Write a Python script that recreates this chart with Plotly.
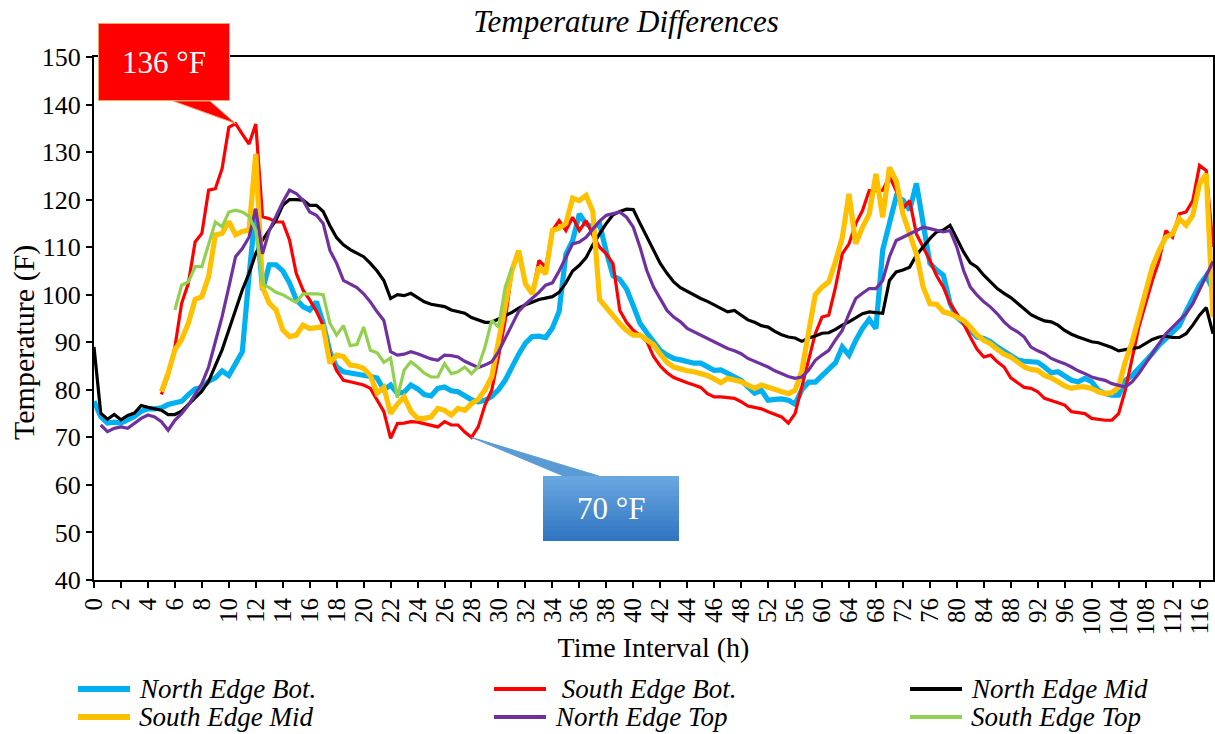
import plotly.graph_objects as go

# Time axis: half-hourly readings for the first 48 h, hourly afterwards
HOURS = [i / 2 for i in range(97)] + list(range(49, 119))
CATEGORIES = [f"{h:g}" for h in HOURS]
TICK_LABELS = CATEGORIES[::4]

north_edge_bot = [
    77.6, 74.4, 73.0, 73.2, 73.0, 73.7, 74.4, 75.5, 76.0, 76.0,
    76.2, 76.9, 77.2, 77.6, 79.0, 80.2, 80.4, 81.8, 82.5, 84.0,
    83.0, 85.5, 88.0, 104.0, 118.0, 101.0, 106.3, 106.3, 105.0, 102.5,
    99.0, 97.5, 96.8, 98.5, 94.0, 88.0, 84.8, 83.8, 83.6, 83.3,
    83.0, 82.8, 82.5, 80.0, 81.0, 79.3, 79.5, 81.0, 80.2, 79.0,
    78.7, 80.3, 80.6, 79.8, 79.6, 78.8, 77.9, 77.5, 77.8, 78.6,
    80.0, 82.0, 85.0, 87.5, 89.8, 91.2, 91.3, 91.0, 93.0, 96.5,
    108.5, 111.4, 117.0, 114.9, 114.2, 114.9, 109.0, 104.0, 103.2, 101.2,
    97.7, 94.0, 92.0, 90.2, 88.3, 87.3, 86.6, 86.3, 86.0, 85.6,
    85.6, 85.0, 84.1, 84.2, 83.5, 82.7, 82.0, 80.6, 79.3, 79.9,
    77.8, 78.0, 78.1, 77.8, 77.0, 80.0, 81.6, 81.6, 83.0, 84.3,
    85.7, 89.0, 87.3, 90.4, 92.9, 94.8, 92.9, 109.4, 115.0, 120.6,
    119.9, 117.8, 123.4, 115.7, 106.6, 105.2, 104.1, 98.2, 95.3, 94.0,
    92.5, 91.1, 90.8, 90.1, 89.0, 88.0, 87.3, 86.3, 86.0, 86.0,
    85.8, 84.8, 83.6, 83.8, 82.9, 82.0, 81.7, 82.4, 81.7, 79.9,
    79.2, 78.9, 78.9, 82.0, 83.0, 84.5, 85.9, 87.6, 89.4, 90.8,
    92.0, 93.5, 96.5, 99.5, 102.0, 104.0, 101.0,
]

south_edge_bot = [None] * 10 + [
    79.0, 83.0, 89.0, 98.2, 102.4, 111.1, 112.9, 122.0, 122.3, 126.5,
    135.2, 136.0, 133.8, 131.7, 135.9, 116.4, 116.0, 115.3, 115.3, 111.5,
    104.5, 101.0, 98.9, 96.5, 93.5, 87.5, 84.0, 82.0, 81.7, 81.3,
    81.0, 80.3, 78.0, 75.4, 69.8, 72.9, 73.0, 73.3, 73.2, 72.9,
    72.5, 72.2, 73.3, 72.6, 72.6, 71.1, 70.0, 72.2, 76.8, 79.9,
    86.9, 94.6, 105.1, 108.6, 102.3, 100.2, 107.2, 105.8, 113.5, 115.6,
    113.5, 116.3, 113.5, 115.6, 112.5, 110.0, 108.6, 106.5, 96.7, 94.2,
    92.5, 91.5, 90.2, 87.0, 85.0, 83.6, 82.6, 82.0, 81.5, 81.0,
    80.5, 79.2, 78.5, 78.5, 78.4, 78.2, 77.5, 76.6, 76.3, 76.0,
    75.4, 74.9, 74.3, 73.0, 75.0, 80.6, 86.5, 91.8, 95.3, 95.7,
    101.6, 108.6, 110.7, 114.9, 117.7, 121.9, 121.9, 122.0, 124.9, 121.9,
    118.1, 119.8, 112.8, 110.0, 107.2, 104.0, 101.6, 98.1, 96.0, 93.9,
    91.1, 88.5, 86.9, 87.3, 85.9, 84.8, 82.5, 81.5, 80.5, 80.3,
    79.6, 78.2, 77.8, 77.3, 76.8, 75.4, 75.2, 75.0, 74.0, 73.8,
    73.6, 73.6, 75.0, 80.0, 87.0, 93.2, 98.1, 103.0, 107.2, 113.5,
    112.1, 117.0, 117.4, 119.8, 127.2, 126.1, 110.0,
]

north_edge_mid = [
    89.0, 75.1, 73.8, 74.8, 73.7, 74.6, 75.1, 76.7, 76.3, 76.0,
    75.7, 74.8, 74.8, 75.5, 76.9, 78.3, 79.7, 81.8, 85.0, 88.4,
    92.6, 96.8, 101.0, 104.5, 108.7, 111.5, 113.6, 115.7, 118.8, 120.0,
    120.0, 119.9, 118.8, 118.8, 117.5, 114.5, 112.0, 110.5, 109.5, 108.7,
    108.0, 106.6, 105.0, 103.0, 99.2, 100.0, 99.8, 100.3, 99.3, 98.5,
    98.0, 97.7, 97.5, 96.8, 96.4, 96.1, 95.2, 94.7, 94.2, 94.2,
    94.9, 95.6, 96.3, 97.2, 97.9, 98.4, 99.0, 99.3, 99.6, 100.5,
    102.5, 105.0, 106.2, 107.8, 110.5, 112.8, 115.0, 116.8, 117.5, 118.0,
    117.9, 115.0, 112.2, 109.4, 106.6, 104.5, 102.7, 101.5, 100.7, 99.9,
    99.2, 98.6, 97.9, 97.2, 96.4, 96.7, 95.6, 94.7, 94.2, 93.5,
    93.2, 92.3, 91.6, 91.1, 90.9, 90.2, 90.9, 91.3, 91.9, 92.0,
    92.7, 93.6, 94.3, 95.2, 96.0, 96.4, 96.2, 96.1, 103.0, 104.8,
    105.2, 105.8, 108.3, 110.0, 111.8, 113.2, 113.6, 114.6, 111.8, 109.0,
    106.7, 105.8, 104.1, 102.7, 101.3, 100.3, 99.4, 98.2, 97.0, 95.8,
    95.1, 94.5, 94.3, 93.6, 92.5, 91.7, 91.1, 90.6, 90.1, 89.9,
    89.4, 88.9, 88.2, 88.5, 88.7, 88.9, 89.8, 90.6, 91.1, 91.3,
    91.0, 91.0, 91.8, 93.6, 95.7, 97.3, 91.8,
]

south_edge_mid = [None] * 10 + [
    79.6, 83.5, 88.4, 90.6, 94.0, 99.0, 99.6, 103.8, 112.6, 112.9,
    115.4, 112.6, 113.3, 113.6, 129.6, 101.6, 98.2, 96.8, 92.6, 91.2,
    91.5, 93.6, 92.9, 93.1, 93.3, 85.6, 87.3, 87.0, 85.2, 85.0,
    84.5, 83.0, 79.3, 80.5, 75.0, 77.0, 78.5, 75.5, 74.0, 74.0,
    74.3, 76.1, 75.7, 74.7, 76.1, 75.7, 77.1, 78.0, 80.0, 82.7,
    90.4, 97.4, 105.1, 109.3, 102.3, 100.2, 105.8, 104.4, 113.5, 114.0,
    115.0, 120.3, 119.8, 120.9, 117.5, 99.0, 97.2, 95.3, 93.9, 92.5,
    91.5, 91.5, 90.4, 89.5, 87.5, 85.8, 84.8, 84.3, 84.0, 83.8,
    83.4, 83.0, 82.3, 81.5, 82.4, 82.0, 81.7, 81.0, 80.3, 81.0,
    80.5, 80.0, 79.6, 79.2, 79.9, 84.0, 92.0, 100.0, 101.6, 102.7,
    107.0, 112.0, 121.2, 110.7, 114.2, 117.0, 125.4, 116.3, 126.8, 124.0,
    117.0, 112.8, 108.6, 101.6, 98.1, 98.0, 96.4, 96.0, 95.3, 94.6,
    93.2, 91.5, 90.4, 89.7, 88.5, 87.5, 86.9, 85.9, 84.8, 84.3,
    84.1, 83.0, 82.5, 81.7, 80.8, 80.3, 80.6, 80.6, 80.3, 79.6,
    79.2, 79.4, 80.6, 86.0, 90.0, 95.3, 100.2, 105.8, 109.3, 112.1,
    112.8, 116.0, 114.6, 116.7, 123.3, 125.4, 95.3,
]

north_edge_top = [
    None, 72.6, 71.2, 71.9, 72.2, 71.9, 72.9, 74.0, 74.7, 74.3,
    73.3, 71.5, 73.6, 75.0, 76.8, 78.9, 81.3, 84.8, 89.8, 95.4,
    101.6, 108.0, 109.7, 112.1, 118.1, 108.6, 113.5, 116.7, 119.5, 122.0,
    121.3, 119.9, 117.4, 116.7, 115.0, 109.3, 106.6, 103.0, 102.3, 101.5,
    100.2, 98.5, 96.4, 94.6, 88.0, 87.3, 87.5, 88.0, 87.6, 87.0,
    86.5, 86.2, 87.3, 87.2, 86.9, 86.0, 85.3, 84.7, 85.2, 85.9,
    88.0, 90.8, 93.5, 96.5, 98.0, 99.2, 100.5, 102.0, 102.5, 105.0,
    108.0, 110.7, 111.1, 112.1, 113.8, 115.5, 116.7, 117.1, 117.4, 116.3,
    114.2, 110.0, 105.1, 101.6, 99.2, 96.7, 95.3, 94.3, 92.9, 92.2,
    91.5, 90.8, 90.0, 89.4, 88.7, 88.2, 87.6, 86.6, 86.0, 85.5,
    84.8, 84.0, 83.4, 82.8, 82.4, 82.7, 84.1, 86.2, 87.3, 88.3,
    90.5, 92.5, 96.0, 99.2, 100.3, 101.3, 101.3, 103.0, 108.0, 111.4,
    112.1, 112.8, 113.5, 114.2, 113.9, 113.5, 113.2, 113.5, 110.0, 105.1,
    101.6, 99.9, 98.5, 97.4, 96.0, 94.3, 93.0, 92.2, 91.1, 89.0,
    88.2, 87.6, 86.6, 86.0, 85.5, 84.8, 84.0, 83.4, 82.7, 82.3,
    82.0, 81.3, 81.0, 80.6, 81.7, 83.4, 85.5, 87.6, 89.7, 91.8,
    93.2, 94.6, 96.0, 98.1, 100.9, 104.0, 107.0,
]

south_edge_top = [None] * 12 + [
    96.8, 102.0, 102.7, 105.9, 105.9, 110.4, 115.3, 114.3,
    117.4, 117.8, 117.4, 116.5, 113.5, 102.3, 101.5, 100.5, 100.0, 99.2,
    98.4, 100.2, 100.2, 100.2, 100.0, 94.0, 91.5, 93.5, 89.3, 89.5,
    93.2, 88.3, 87.8, 85.8, 86.7, 78.3, 84.1, 85.9, 84.8, 83.5,
    82.7, 82.7, 85.5, 83.4, 83.8, 84.8, 83.4, 84.8, 89.0, 94.6,
    93.2, 101.6, 105.8,
] + [None] * 104

SERIES = [
    ("North Edge Bot.", north_edge_bot, "#00B0F0", 5.2),
    ("South Edge Bot.", south_edge_bot, "#FF0000", 3.2),
    ("North Edge Mid", north_edge_mid, "#000000", 3.2),
    ("South Edge Mid", south_edge_mid, "#FFC000", 5.2),
    ("North Edge Top", north_edge_top, "#7030A0", 3.2),
    ("South Edge Top", south_edge_top, "#92D050", 3.2),
]
for _, vals, _, _ in SERIES:
    assert len(vals) == len(CATEGORIES)

FONT = "Liberation Serif, Times New Roman, serif"
W, H = 1215, 734
ML, MR, MT, MB = 94, 2, 57, 154
Y_MIN, Y_MAX = 40, 150
X_MAX = len(CATEGORIES) - 1


def px_to_paper(px, py):
    return (px - ML) / (W - ML - MR), (H - MB - py) / (H - MT - MB)


def data_to_paper(k, v):
    return k / X_MAX, (v - Y_MIN) / (Y_MAX - Y_MIN)


fig = go.Figure()
for name, vals, color, width in SERIES:
    fig.add_trace(go.Scatter(
        x=CATEGORIES, y=vals, name=name, mode="lines",
        line=dict(color=color, width=width),
        connectgaps=False, showlegend=False,
    ))

shapes = []
annotations = []

# Callout for the peak of the south-edge bottom gauge
peak_k = CATEGORIES.index("10.5")
peak_v = south_edge_bot[peak_k]
tx, ty = data_to_paper(peak_k, peak_v)
b1x, by = px_to_paper(173, 101)
b2x, _ = px_to_paper(210, 101)
shapes.append(dict(
    type="path", xref="paper", yref="paper",
    path=f"M {b1x},{by} L {b2x},{by} L {tx},{ty} Z",
    fillcolor="#FF0000", line=dict(color="#F4A46A", width=1), layer="above",
))
cx, cy = px_to_paper(164, 62)
annotations.append(dict(
    xref="paper", yref="paper", x=cx, y=cy, xanchor="center", yanchor="middle",
    text=f"{peak_v:.0f} °F", showarrow=False, width=130, height=76,
    bgcolor="#FF0000", bordercolor="#F4A46A", borderwidth=1, borderpad=0,
    font=dict(family=FONT, size=31, color="white"),
))

# Callout for the low of the south-edge bottom gauge
low_k = CATEGORIES.index("28")
low_v = south_edge_bot[low_k]
tx, ty = data_to_paper(low_k, low_v)
b1x, by = px_to_paper(566, 477)
b2x, _ = px_to_paper(602, 477)
shapes.append(dict(
    type="path", xref="paper", yref="paper",
    path=f"M {b1x},{by} L {b2x},{by} L {tx},{ty} Z",
    fillcolor="#5B9BD5", line=dict(color="#5B9BD5", width=1), layer="above",
))
box_l, box_r, box_t, box_b = 543, 679, 476, 541
steps = 13
top_rgb, bot_rgb = (104, 166, 224), (50, 118, 194)
for i in range(steps):
    f = i / (steps - 1)
    rgb = tuple(round(a + (b - a) * f) for a, b in zip(top_rgb, bot_rgb))
    y0 = box_t + (box_b - box_t) * i / steps
    y1 = box_t + (box_b - box_t) * (i + 1) / steps
    x0p, y0p = px_to_paper(box_l, y0)
    x1p, y1p = px_to_paper(box_r, y1)
    shapes.append(dict(
        type="rect", xref="paper", yref="paper", x0=x0p, x1=x1p, y0=y1p, y1=y0p,
        fillcolor=f"rgb{rgb}", line=dict(width=0), layer="above",
    ))
cx, cy = px_to_paper((box_l + box_r) / 2, (box_t + box_b) / 2)
annotations.append(dict(
    xref="paper", yref="paper", x=cx, y=cy, xanchor="center", yanchor="middle",
    text=f"{low_v:.0f} °F", showarrow=False,
    font=dict(family=FONT, size=31, color="white"),
))

# Y-axis title
yx, yy = px_to_paper(24, 343)
annotations.append(dict(
    xref="paper", yref="paper", x=yx, y=yy, xanchor="center", yanchor="middle",
    text="Temperature (F)", textangle=-90, showarrow=False,
    font=dict(family=FONT, size=30, color="black"),
))

# Legend: three columns, two rows
for i, (name, _, color, width) in enumerate(SERIES):
    col, row = i % 3, i // 3
    lx0 = 78 + col * 416
    lx1 = lx0 + 52
    ly = 689 + row * 28
    p0x, p0y = px_to_paper(lx0, ly)
    p1x, _ = px_to_paper(lx1, ly)
    shapes.append(dict(
        type="line", xref="paper", yref="paper", x0=p0x, x1=p1x, y0=p0y, y1=p0y,
        line=dict(color=color, width=width + 0.8),
    ))
    tx_, ty_ = px_to_paper(lx1 + 7, ly)
    label = (" " + name) if i == 1 else name
    annotations.append(dict(
        xref="paper", yref="paper", x=tx_, y=ty_, xanchor="left", yanchor="middle",
        text=f"<i>{label}</i>", showarrow=False,
        font=dict(family=FONT, size=27, color="black"),
    ))

fig.update_layout(
    width=W, height=H,
    margin=dict(l=ML, r=MR, t=MT, b=MB, autoexpand=False),
    paper_bgcolor="white", plot_bgcolor="white",
    font=dict(family=FONT, color="black"),
    title=dict(
        text="<i>Temperature Differences</i>",
        xref="container", yref="container",
        x=626 / W, y=1 - 21 / H, xanchor="center", yanchor="middle",
        font=dict(family=FONT, size=31, color="black"),
    ),
    xaxis=dict(
        type="category", categoryorder="array", categoryarray=CATEGORIES,
        range=[0, X_MAX], tickmode="array", tickvals=TICK_LABELS, ticktext=TICK_LABELS,
        tickangle=-90, ticks="outside", ticklen=6, tickwidth=1.5, tickcolor="black",
        showline=True, linecolor="black", linewidth=2, mirror=True,
        showgrid=False, zeroline=False,
        tickfont=dict(family=FONT, size=25, color="black"),
        title=dict(text="Time Interval (h)", standoff=3,
                   font=dict(family=FONT, size=28, color="black")),
    ),
    yaxis=dict(
        range=[Y_MIN, Y_MAX], dtick=10, tick0=40,
        ticks="outside", ticklen=6, tickwidth=1.5, tickcolor="black",
        showline=True, linecolor="black", linewidth=2, mirror=True,
        showgrid=False, zeroline=False,
        tickfont=dict(family=FONT, size=26, color="black"),
    ),
    shapes=shapes, annotations=annotations, showlegend=False,
)

fig.write_html("out.html", config={"displayModeBar": False})
